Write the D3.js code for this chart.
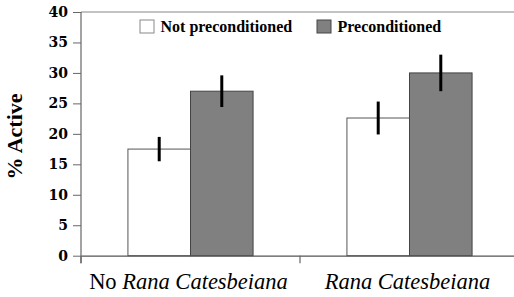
<!DOCTYPE html>
<html><head><meta charset="utf-8">
<script src="https://cdn.jsdelivr.net/npm/d3@7"></script>
<style>body{margin:0;background:#fff}svg{display:block}
.serif{font-family:"Liberation Serif","Times New Roman",serif}
.dserif{font-family:"DejaVu Serif",serif}
</style>
</head><body>
<svg id="c" width="514" height="297"></svg>
<script>
const categories = ["No Rana Catesbeiana", "Rana Catesbeiana"];
const series = ["Not preconditioned", "Preconditioned"];
const notPre = [17.5, 22.6];
const pre = [27.0, 30.0];
const notPreErr = [2.0, 2.7];
const preErr = [2.6, 3.0];
const yTicks = [0, 5, 10, 15, 20, 25, 30, 35, 40];

const values = [notPre, pre];
const errs = [notPreErr, preErr];
const colors = ["#ffffff", "#808080"];
const strokes = ["#555555", "#444444"];

const svg = d3.select("#c");
const L = 81, R = 519, T = 12, B = 255.7;
const x0 = d3.scaleBand().domain(categories).range([L, R]).padding(0);
const x1 = d3.scaleBand().domain(series).range([0, x0.bandwidth()]).paddingInner(0).paddingOuter(0.75);
const y = d3.scaleLinear().domain([0, 40]).range([B, T]);

// top border
svg.append("line").attr("x1", L).attr("x2", 514).attr("y1", T).attr("y2", T)
  .attr("stroke", "#888").attr("stroke-width", 1.2);

// bars
const data = [];
categories.forEach((c, i) => series.forEach((s, j) => data.push({c, s, j, v: values[j][i], e: errs[j][i]})));
svg.selectAll("rect.bar").data(data).join("rect").attr("class", "bar")
  .attr("x", d => x0(d.c) + x1(d.s)).attr("width", x1.bandwidth())
  .attr("y", d => y(d.v)).attr("height", d => B - y(d.v))
  .attr("fill", d => colors[d.j]).attr("stroke", d => strokes[d.j]).attr("stroke-width", 1);

// error bars
svg.selectAll("line.err").data(data).join("line").attr("class", "err")
  .attr("x1", d => x0(d.c) + x1(d.s) + x1.bandwidth() / 2)
  .attr("x2", d => x0(d.c) + x1(d.s) + x1.bandwidth() / 2)
  .attr("y1", d => y(d.v + d.e)).attr("y2", d => y(d.v - d.e))
  .attr("stroke", "#000").attr("stroke-width", 3);

// y axis
const ya = svg.append("g").attr("transform", `translate(${L},0)`)
  .call(d3.axisLeft(y).tickValues(yTicks).tickSize(8).tickPadding(5));
ya.attr("font-family", null).attr("font-size", null);
ya.select(".domain").remove();
ya.selectAll(".tick line").attr("stroke", "#666");
ya.selectAll(".tick text").attr("class", "dserif")
  .style("font-weight", "bold").style("font-size", "14px").attr("fill", "#000");
svg.append("line").attr("x1", L).attr("x2", L).attr("y1", T).attr("y2", B + 7.5)
  .attr("stroke", "#666").attr("stroke-width", 1.2);

// x axis
const xa = svg.append("g").attr("transform", `translate(0,${B})`)
  .call(d3.axisBottom(x0).tickValues([]).tickSize(0));
xa.select(".domain").attr("stroke", "#555").attr("stroke-width", 1.2);
const bounds = d3.range(categories.length + 1).map(i => i === categories.length ? R : x0(categories[i]));
svg.selectAll("line.xt").data(bounds).join("line").attr("class", "xt")
  .attr("x1", d => d).attr("x2", d => d).attr("y1", B).attr("y2", B + 7.5)
  .attr("stroke", "#666").attr("stroke-width", 1.2);

// x labels
const lab = svg.selectAll("text.xl").data(categories).join("text").attr("class", "xl serif")
  .attr("x", d => x0(d) + x0.bandwidth() / 2 - 2).attr("y", 289)
  .attr("text-anchor", "middle").style("font-size", "22.5px").attr("fill", "#000");
lab.each(function(d) {
  const t = d3.select(this);
  if (d.startsWith("No ")) {
    t.append("tspan").attr("class", "serif").text("No ");
    t.append("tspan").attr("class", "serif").style("font-style", "italic").text(d.slice(3));
  } else {
    t.append("tspan").attr("class", "serif").style("font-style", "italic").text(d);
  }
});

// y label
svg.append("text").attr("class", "serif").attr("transform", "translate(22,136.5) rotate(-90)")
  .attr("text-anchor", "middle").style("font-weight", "bold")
  .style("font-size", "22px").attr("fill", "#000").text("% Active");

// legend
const legX = [140, 317];
const lg = svg.selectAll("g.leg").data(series).join("g").attr("class", "leg")
  .attr("transform", (d, i) => `translate(${legX[i]},20)`);
lg.append("rect").attr("width", 14).attr("height", 13)
  .attr("fill", (d, i) => colors[i]).attr("stroke", (d, i) => i ? "#444" : "#888").attr("stroke-width", 1);
lg.append("text").attr("class", "serif").attr("x", 20.5).attr("y", 12.3)
  .style("font-weight", "bold").style("font-size", "16px")
  .attr("fill", "#000").text(d => d);
</script>
</body></html>
